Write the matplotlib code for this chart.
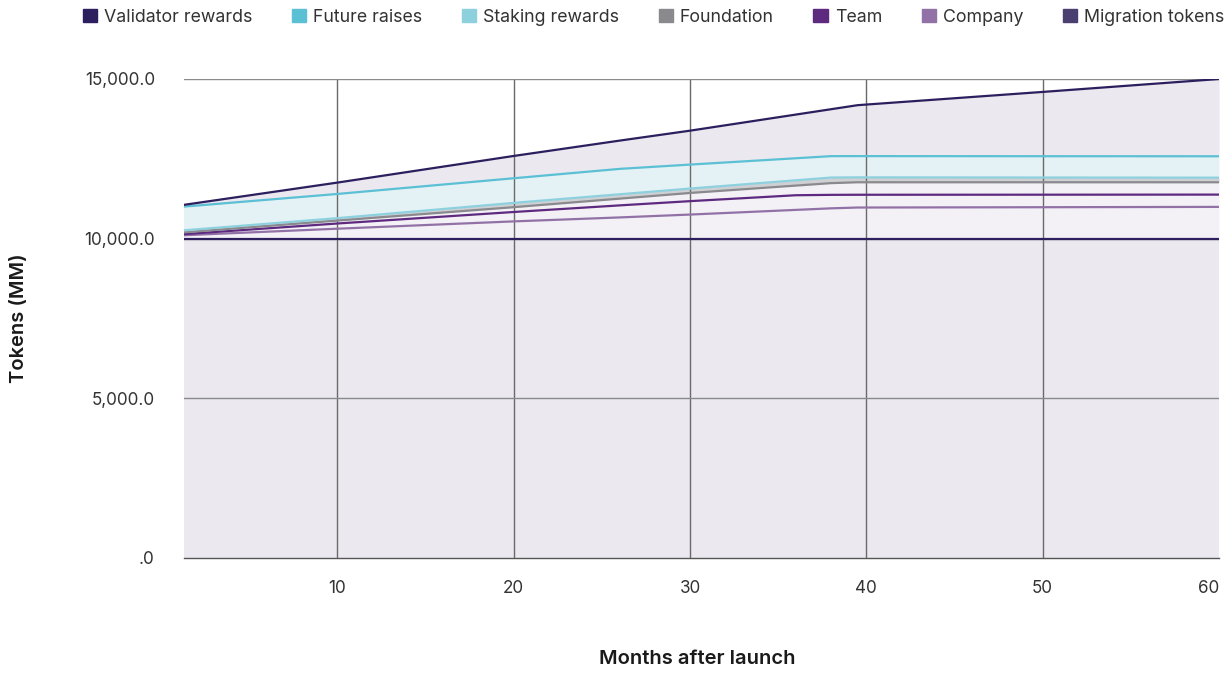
import matplotlib
matplotlib.use("Agg")
import matplotlib.pyplot as plt
from matplotlib.patches import Patch
from matplotlib.ticker import FuncFormatter
import numpy as np

plt.rcParams['font.family'] = ['Inter', 'DejaVu Sans']

# Months after launch (breakpoints of the unlock schedule)
months = [1, 10, 20, 26, 30, 36, 38, 39.5, 50, 60]

# Unlocked tokens per category (MM), stacked bottom to top
migration_tokens = [10000, 10000, 10000, 10000, 10000, 10000, 10000, 10000, 10000, 10000]
company = [100, 312, 541, 665, 755, 901, 950, 975, 985, 995]
team = [30, 163, 294, 377, 420, 459, 422, 400, 392, 385]
foundation = [55, 92, 151, 211, 256, 302, 367, 391, 389, 386]
staking_rewards = [63, 75, 135, 137, 138, 166, 175, 154, 149, 144]
future_raises = [742, 758, 771, 795, 751, 690, 670, 665, 667, 670]
validator_rewards = [45, 356, 698, 885, 1062, 1368, 1470, 1595, 2013, 2420]

labels = ["Validator rewards", "Future raises", "Staking rewards", "Foundation",
          "Team", "Company", "Migration tokens"]
line_colors = ["#2d1f5e", "#5bc0d4", "#8dd0de", "#8a8a8e", "#5e2a80", "#9272a6", "#4b3f72"]
fill_colors = ["#ebe8f0", "#e4f2f6", "#cfd0d3", "#f3f1f6", "#f3f0f6", "#f3f0f6", "#ebe8f0"]

# stack order bottom -> top
stack = [migration_tokens, company, team, foundation, staking_rewards,
         future_raises, validator_rewards]
stack_lines = line_colors[::-1]
stack_fills = fill_colors[::-1]
# the bottom boundary line (top of migration tokens) is drawn in navy
stack_lines[0] = "#2d1f5e"

x = np.array(months, dtype=float)
tops = np.cumsum(np.array(stack, dtype=float), axis=0)
bottoms = np.vstack([np.zeros_like(x), tops[:-1]])

fig = plt.figure(figsize=(12.3, 6.75), dpi=100)
ax = fig.add_axes([184 / 1230, 1 - 558 / 675, (1219 - 184) / 1230, (558 - 79) / 675])

for i in range(len(stack)):
    ax.fill_between(x, bottoms[i], tops[i], color=stack_fills[i], lw=0, zorder=1)
for i in range(len(stack)):
    ax.plot(x, tops[i], color=stack_lines[i], lw=1.6, zorder=3, solid_capstyle='butt')

ax.set_xlim(1.3, 60)
ax.set_ylim(0, 15000)
ax.set_xticks([10, 20, 30, 40, 50, 60])
ax.set_yticks([0, 5000, 10000, 15000])


def fmt_y(v, pos):
    s = f"{v:,.1f}"
    return ".0" if v == 0 else s


ax.yaxis.set_major_formatter(FuncFormatter(fmt_y))

for v in [10, 20, 30, 40, 50]:
    ax.axvline(v, color="#6a6a6a", lw=1.0, zorder=2)
for v in [5000, 10000, 15000]:
    ax.axhline(v, color="#8a8a8a", lw=1.0, zorder=2)

for s in ["top", "right", "left"]:
    ax.spines[s].set_visible(False)
ax.spines["bottom"].set_color("#555555")
ax.spines["bottom"].set_linewidth(1.0)
ax.spines["bottom"].set_zorder(4)

ax.tick_params(axis="both", length=0, labelsize=12.3, labelcolor="#333333")
ax.tick_params(axis="x", pad=16)
ax.tick_params(axis="y", pad=21)
# keep the last month label inside the plot edge
ax.get_xticklabels()[-1].set_horizontalalignment("right")

ax.set_xlabel("Months after launch", fontsize=14.5, fontweight="semibold", color="#1a1a1a")
ax.xaxis.set_label_coords(0.496, -0.192)
ax.set_ylabel("Tokens (MM)", fontsize=14.5, fontweight="semibold", color="#1a1a1a")
ax.yaxis.set_label_coords(-0.151, 0.5)

handles = [Patch(facecolor=c, edgecolor=c) for c in line_colors]
fig.legend(handles, labels, loc="upper left", bbox_to_anchor=(72 / 1230, 1.003),
           ncol=7, frameon=False, fontsize=12.8, handlelength=0.8, handleheight=0.8,
           handletextpad=0.4, columnspacing=2.22, labelcolor="#333333",
           borderaxespad=0.2)

fig.savefig("out.png", dpi=100)
